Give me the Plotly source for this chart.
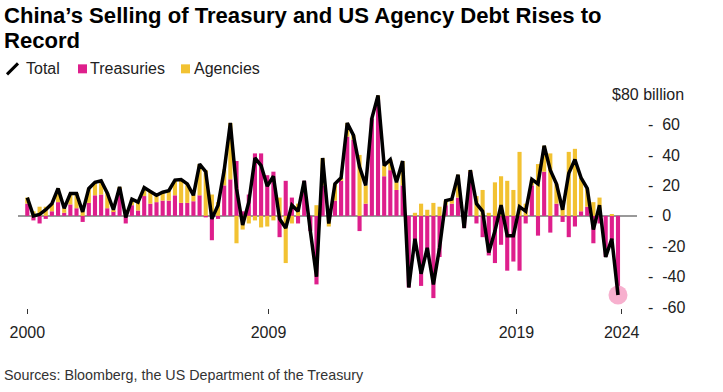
import plotly.graph_objects as go

# ---- data (US$ billion, quarterly net change) ----
treasuries = [8, -3, -5, -2, 3, 9, 2, 7.5, 5, -4,
              8.5, 13.5, 14, 5, 3, 18, -5, 7, 3.5, 13,
              8, 9, 10, 10, 13.5, 8.5, 8.5, 9.6, 13.5, -1,
              -16, -2, 20, 24, 36, 3, 14, 41, 41, 26.7,
              29, -14, 23, 12, -5, 23, -10, -45, 20, 2,
              10, 23, 52, 50, -10, 8, 64, 76, 26, 30,
              17, 20, -47, -17, -46, -25, -54, -27, 7, 8,
              12, -8, 29, -5, -14, -26, -31, -19, -36, -30,
              -36, -5, 20, -13, 29, -11, 8, -4, -14, -7,
              3, 6, -18, -5, -27, -16, -52]
agencies = [4, 3, 6, 6, 5, 9, 3, 7, 10, 6.6,
            9.5, 8.5, 9, 10, 1, 1, 4, 4, 5.5, 5.6,
            8, 4.5, 5.5, 6.5, 10, 15, 12.5, 4, 20.5, 30,
            14, 9, 10, 37, -18, -9, -5, -3, -7.6, -7,
            -3, 12, -31, -5, 8, 0, 0, 7, 18, -7,
            11, 2, 9, 3, 40, 12, 0, 3, 7, 7,
            5, 16, 0, 2, 8, 4, 8.5, 6, 3, 3,
            15, 0, 1, 13, 17, 2, 22, 26, 23, 17,
            42, 8, 4, 34, 17, 41, 13, 8, 42, 44,
            22, 12, 9, 12, 0, 1, 0]
total = [12, 0, 1, 4, 8, 18, 5, 14.6, 14.6, 2.6,
         18, 22, 23, 15, 4, 19, -1, 11, 9, 18.6,
         16, 13.5, 15.5, 16.5, 23.5, 23.8, 21, 13.5, 34, 29,
         -2, 7, 30, 61, 18, -6, 9, 38, 33, 19.5,
         26, -2, -8, 7, 3, 23, -10, -40, 38, -5,
         21, 25, 61, 53, 32, 20, 64, 79, 33, 37,
         22, 36, -47, -15, -38, -21, -45, -21, 10, 11,
         27, -8, 30, 8, 3, -24, -10, 7, -13, -13,
         6, 3, 24, 21, 46, 30, 21, 4, 28, 37,
         25, 18, -9, 7, -27, -15, -52]
periods = list(range(len(total)))

tick_pos = [0, 39.2, 79.5, 96.6]
tick_labels = ["2000", "2009", "2019", "2024"]
y_ticks = [-60, -40, -20, 0, 20, 40, 60]

PINK = "#DE1F8C"
YELLOW = "#F2C232"
FONT = "Liberation Sans, Arial, sans-serif"

W, H = 723, 392
ML, MT, MR, MB = 18, 93.7, 86, 84
PW, PH = W - ML - MR, H - MT - MB

def px_x(px):
    return (px - ML) / PW

def px_y(py):
    return 1 + (MT - py) / PH

fig = go.Figure()
fig.add_trace(go.Bar(x=periods, y=treasuries, marker_color=PINK, marker_line_width=0, name="Treasuries"))
fig.add_trace(go.Bar(x=periods, y=agencies, marker_color=YELLOW, marker_line_width=0, name="Agencies"))
fig.add_trace(go.Scatter(x=[periods[-1]], y=[total[-1]], mode="markers",
                         marker=dict(size=19, color="rgba(244,150,190,0.75)", line_width=0),
                         hoverinfo="skip", cliponaxis=False))
fig.add_trace(go.Scatter(x=periods, y=total, mode="lines", line=dict(color="black", width=3.5),
                         name="Total", cliponaxis=False))

fig.update_layout(
    width=W, height=H,
    margin=dict(l=ML, r=MR, t=MT, b=MB, autoexpand=False),
    paper_bgcolor="white", plot_bgcolor="white",
    barmode="relative", bargap=0.33,
    showlegend=False,
    font=dict(family=FONT, size=16, color="#222"),
    xaxis=dict(range=[-1.51, 99.09], showgrid=False, zeroline=False, showline=False,
               tickvals=tick_pos, ticktext=tick_labels, ticks="outside", ticklen=5,
               tickwidth=1, tickcolor="#333", ticklabelstandoff=5,
               tickfont=dict(size=16, color="#222")),
    yaxis=dict(range=[-60.5, 80], side="right", showgrid=False, showline=False,
               zeroline=True, zerolinecolor="#999", zerolinewidth=2,
               tickvals=y_ticks,
               ticktext=["-\u00a0\u00a0" + str(v) for v in y_ticks],
               ticks="", ticklabelstandoff=10,
               tickfont=dict(size=16, color="#222")),
)

# title
TITLE_FONT = dict(size=22.1, color="#000", family=FONT)
fig.add_annotation(text="<b>China’s Selling of Treasury and US Agency Debt Rises to</b>",
                   xref="paper", yref="paper", x=px_x(2), y=px_y(15),
                   xanchor="left", yanchor="middle", showarrow=False, font=TITLE_FONT)
fig.add_annotation(text="<b>Record</b>",
                   xref="paper", yref="paper", x=px_x(2), y=px_y(40),
                   xanchor="left", yanchor="middle", showarrow=False, font=TITLE_FONT)

# legend
fig.add_shape(type="line", xref="paper", yref="paper", x0=px_x(7), y0=px_y(74), x1=px_x(18), y1=px_y(63),
              line=dict(color="black", width=3))
fig.add_annotation(text="Total", xref="paper", yref="paper", x=px_x(24), y=px_y(68.5),
                   xanchor="left", yanchor="middle", showarrow=False, font=dict(size=16, color="#222"))
fig.add_shape(type="rect", xref="paper", yref="paper", x0=px_x(78), y0=px_y(73), x1=px_x(87), y1=px_y(64),
              fillcolor=PINK, line_width=0)
fig.add_annotation(text="Treasuries", xref="paper", yref="paper", x=px_x(88), y=px_y(68.5),
                   xanchor="left", yanchor="middle", showarrow=False, font=dict(size=16, color="#222"))
fig.add_shape(type="rect", xref="paper", yref="paper", x0=px_x(181), y0=px_y(73), x1=px_x(190), y1=px_y(64),
              fillcolor=YELLOW, line_width=0)
fig.add_annotation(text="Agencies", xref="paper", yref="paper", x=px_x(192), y=px_y(68.5),
                   xanchor="left", yanchor="middle", showarrow=False, font=dict(size=16, color="#222"))

# unit label
fig.add_annotation(text="$80 billion", xref="paper", yref="y", x=px_x(610), y=80,
                   xanchor="left", yanchor="middle", showarrow=False, font=dict(size=16, color="#222"))

# source
fig.add_annotation(text="Sources: Bloomberg, the US Department of the Treasury",
                   xref="paper", yref="paper", x=px_x(2), y=px_y(375),
                   xanchor="left", yanchor="middle", showarrow=False, font=dict(size=14.3, color="#333"))

fig.write_html("out.html", config={"displayModeBar": False},
               post_script="document.body.style.margin='0px';")
